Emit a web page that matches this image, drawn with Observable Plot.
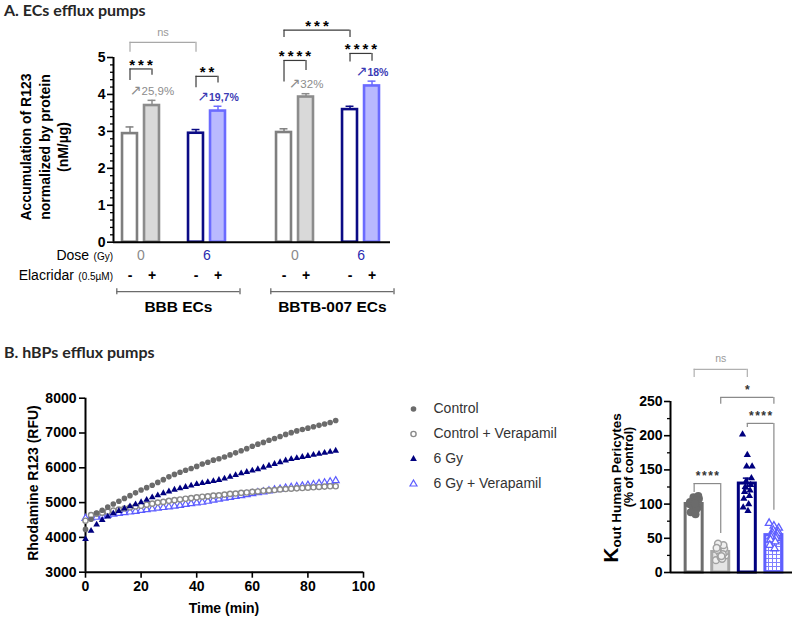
<!DOCTYPE html>
<html><head><meta charset="utf-8">
<script src="https://cdn.jsdelivr.net/npm/d3@7"></script>
<script src="https://cdn.jsdelivr.net/npm/@observablehq/plot@0.6"></script>
<style>
body{margin:0;background:#fff;}
#root{position:relative;width:794px;height:619px;overflow:hidden;background:#fff;font-family:"Liberation Sans",Arial,sans-serif;color:#000;}
.abs{position:absolute;white-space:nowrap;}
.ptitle{font-family:Lato,"Liberation Sans",sans-serif;font-weight:bold;font-size:16px;color:#262626;}
.rot{transform:translate(-50%,-50%) rotate(-90deg);text-align:center;}
</style></head>
<body><div id="root"></div>
<script>
// ---------------- Panel A data ----------------
const cellLines = ["BBB ECs", "BBTB-007 ECs"];
const doseLabels = ["0", "6"];            // Dose (Gy)
const elacridarLabels = ["-", "+"];       // Elacridar (0.5µM)
const accumMean = [2.94, 3.70, 2.95, 3.55, 2.97, 3.93, 3.59, 4.23];
const accumSem  = [0.18, 0.14, 0.10, 0.13, 0.10, 0.09, 0.09, 0.13];
const increaseLabels = ["25,9%", "19,7%", "32%", "18%"];
const sigA = [
  {a: 0, b: 1, level: 4.69, legA: 4.38, legB: 4.52, label: "***"},
  {a: 0, b: 2, level: 5.41, legA: 5.14, legB: 5.14, label: "ns"},
  {a: 2, b: 3, level: 4.49, legA: 4.18, legB: 4.31, label: "**"},
  {a: 4, b: 6, level: 5.74, legA: 5.54, legB: 5.54, label: "***"},
  {a: 4, b: 5, level: 4.92, legA: 4.34, legB: 4.65, label: "****"},
  {a: 6, b: 7, level: 5.11, legA: 4.88, legB: 4.90, label: "****"}
];
const yTicksA = [0, 1, 2, 3, 4, 5];

// ---------------- Panel B data ----------------
const groupNames = ["Control", "Control + Verapamil", "6 Gy", "6 Gy + Verapamil"];
const timeMin = [0,2,4,6,8,10,12,14,16,18,20,22,24,26,28,30,32,34,36,38,40,42,44,46,48,50,52,54,56,58,60,62,64,66,68,70,72,74,76,78,80,82,84,86,88,90];
const rfuControl = [4230,4520,4700,4780,4870,4960,5040,5120,5200,5280,5360,5430,5500,5580,5660,5740,5810,5870,5930,5980,6040,6110,6160,6220,6260,6310,6370,6430,6490,6550,6620,6680,6730,6790,6840,6900,6960,7010,7060,7100,7140,7180,7220,7260,7300,7360];
const rfuControlVer = [4480,4640,4680,4710,4740,4770,4800,4830,4860,4890,4910,4940,4970,5000,5020,5050,5070,5090,5110,5130,5150,5170,5180,5200,5210,5230,5250,5260,5280,5290,5310,5320,5340,5350,5360,5380,5390,5400,5410,5420,5430,5440,5450,5460,5470,5470];
const rfu6Gy = [3950,4190,4370,4500,4600,4690,4760,4830,4890,4950,5010,5080,5150,5210,5270,5320,5370,5410,5450,5490,5530,5560,5590,5620,5650,5690,5740,5790,5840,5880,5920,5960,6010,6060,6110,6160,6210,6250,6280,6310,6340,6370,6400,6430,6460,6490];
const rfu6GyVer = [4550,4560,4580,4610,4640,4670,4690,4710,4730,4750,4780,4800,4820,4840,4860,4880,4900,4920,4950,4970,4990,5010,5040,5070,5100,5130,5150,5180,5200,5230,5260,5290,5310,5340,5370,5390,5420,5440,5460,5480,5500,5520,5550,5570,5600,5630];
const xTicksB = [0, 20, 40, 60, 80, 100];
const yTicksB = [3000, 4000, 5000, 6000, 7000, 8000];

const koutControl = [100,104,108,110,112,97,95,102,106,99,92,88,85,103,101];
const koutControlVer = [18,22,25,28,30,32,35,38,40,42,27,33,20,36,24];
const kout6Gy = [202,172,155,155,138,133,128,125,120,118,112,108,100,95,90];
const kout6GyVer = [72,68,65,62,60,58,57,55,53,52,50,48,45,40,35];
const koutTicks = [0, 50, 100, 150, 200, 250];
const sigB = [
  {a: 0, b: 1, level: 130, legA: 117, legB: 57, label: "****"},
  {a: 0, b: 2, level: 297, legA: 285, legB: 285, label: "ns"},
  {a: 1, b: 3, level: 256, legA: 246, legB: 246, label: "*"},
  {a: 2, b: 3, level: 218, legA: 212, legB: 91, label: "****"}
];

// ---------------- styles ----------------
const FONT = "'Liberation Sans', Arial, sans-serif";
const baseStyle = {fontFamily: FONT, fontSize: "14px", fontWeight: "bold", background: "transparent", overflow: "visible"};
const styleA = [
  {fill: "#ffffff", stroke: "#7f7f7f"},
  {fill: "#d9d9d9", stroke: "#8c8c8c"},
  {fill: "#ffffff", stroke: "#0b0b85"},
  {fill: "#b9b9ff", stroke: "#6b6bff"}
];
const seriesStyle = [
  {symbol: "circle", r: 2.8, fill: "#6b6b6b", stroke: "none", sw: 0},
  {symbol: "circle", r: 2.6, fill: "#ffffff", stroke: "#8a8a8a", sw: 1.4},
  {symbol: "triangle", r: 2.5, fill: "#00007f", stroke: "none", sw: 0},
  {symbol: "triangle", r: 2.6, fill: "#ffffff", stroke: "#5c5cff", sw: 1.2}
];
const barStyleB = [
  {stroke: "#6e6e6e", fill: "#ffffff", dotFill: "#6b6b6b", dotStroke: "none", sw: 0, symbol: "circle", r: 4},
  {stroke: "#a8a8a8", fill: "#e4e4e4", dotFill: "#f0f0f0", dotStroke: "#a2a2a2", sw: 1.5, symbol: "circle", r: 3.4},
  {stroke: "#00007f", fill: "#ffffff", dotFill: "#00007f", dotStroke: "none", sw: 0, symbol: "triangle", r: 2.7},
  {stroke: "#5f5fff", fill: "url(#gridpat)", dotFill: "#ffffff", dotStroke: "#5f5fff", sw: 1.3, symbol: "triangle", r: 2.8}
];

const root = document.getElementById("root");
function place(el, left, top) {
  el.style.position = "absolute"; el.style.left = left + "px"; el.style.top = top + "px";
  root.appendChild(el);
}
function html(str, left, top, cls, extra) {
  const d = document.createElement("div");
  d.className = "abs " + (cls || "");
  d.innerHTML = str;
  if (extra) d.setAttribute("style", extra);
  place(d, left, top);
  return d;
}
function starSpacing(svg, ls) {
  d3.select(svg).selectAll("text").filter(function() { return /^\*+$/.test(this.textContent); })
    .attr("letter-spacing", ls + "px").attr("dx", (ls / 2) + "px");
}

// ---------------- Chart A ----------------
const barsA = accumMean.map((m, i) => {
  const c = Math.floor(i / 4), d = Math.floor(i / 2) % 2, e = i % 2;
  const s = styleA[d * 2 + e];
  return {c, d, e, slot: c * 7 + d * 3 + e, mean: m, top: m + accumSem[i], fill: s.fill, stroke: s.stroke};
});
const pctA = increaseLabels.map((t, k) => {
  const b = barsA[k * 2 + 1];
  return {slot: b.slot, y: b.top, text: "↗" + t, blue: b.d === 1};
});
const doseRow = cellLines.flatMap((c, ci) => doseLabels.map((dl, di) => ({x: ci * 7 + di * 3 + 0.5, label: dl, color: di ? "#2b2bb0" : "#8a8a8a"})));
const elacRow = barsA.map(b => ({x: b.slot, label: elacridarLabels[b.e]}));
const groupRow = cellLines.map((c, ci) => ({x1: ci * 7 - 0.6, x2: ci * 7 + 5.0, label: c}));
const capsA = groupRow.flatMap(g => [g.x1, g.x2]);
const minorA = d3.range(0, 5.001, 0.2).filter(v => Math.abs(v - Math.round(v)) > 1e-6);
const mid = (a, b) => (barsA[a].slot + barsA[b].slot) / 2;
const sigStars = sigA.filter(s => s.label !== "ns");
const sigNs = sigA.filter(s => s.label === "ns");

const chartA = Plot.plot({
  width: 400, height: 320, marginLeft: 113, marginRight: 10, marginTop: 57, marginBottom: 78.3,
  style: baseStyle,
  x: {domain: [-0.75, 11.84], axis: null},
  y: {domain: [0, 5], label: null},
  marks: [
    Plot.axisY({ticks: minorA, tickSize: 3, tickFormat: () => "", strokeWidth: 1.3, label: null}),
    Plot.axisY({ticks: yTicksA, tickSize: 6, tickPadding: 2, tickFormat: d => String(d), strokeWidth: 1.6, fontSize: 14, fontWeight: "bold", label: null}),
    Plot.ruleX(barsA, {x: "slot", y1: "mean", y2: "top", stroke: d => d.stroke, strokeWidth: 1.5}),
    Plot.ruleY(barsA, {y: "top", x1: d => d.slot - 0.18, x2: d => d.slot + 0.18, stroke: d => d.stroke, strokeWidth: 1.5}),
    Plot.rect(barsA, {x1: d => d.slot - 0.34, x2: d => d.slot + 0.34, y1: 0, y2: "mean", fill: d => d.fill, stroke: d => d.stroke, strokeWidth: 2.6}),
    Plot.ruleX([-0.75], {strokeWidth: 2}),
    Plot.ruleY([0], {strokeWidth: 2}),
    // significance brackets
    Plot.ruleY(sigStars, {y: "level", x1: d => barsA[d.a].slot, x2: d => barsA[d.b].slot, stroke: "#3a3a3a", strokeWidth: 1.2}),
    Plot.ruleX(sigStars, {x: d => barsA[d.a].slot, y1: "legA", y2: "level", stroke: "#3a3a3a", strokeWidth: 1.2}),
    Plot.ruleX(sigStars, {x: d => barsA[d.b].slot, y1: "legB", y2: "level", stroke: "#3a3a3a", strokeWidth: 1.2}),
    Plot.ruleY(sigNs, {y: "level", x1: d => barsA[d.a].slot, x2: d => barsA[d.b].slot, stroke: "#a8a8a8", strokeWidth: 1.2}),
    Plot.ruleX(sigNs, {x: d => barsA[d.a].slot, y1: "legA", y2: "level", stroke: "#a8a8a8", strokeWidth: 1.2}),
    Plot.ruleX(sigNs, {x: d => barsA[d.b].slot, y1: "legB", y2: "level", stroke: "#a8a8a8", strokeWidth: 1.2}),
    Plot.text(sigStars, {x: d => mid(d.a, d.b), y: "level", text: "label", dy: -4, fontSize: 15, fontWeight: "bold"}),
    Plot.text(sigNs, {x: d => mid(d.a, d.b), y: "level", text: "label", dy: -10, fontSize: 11, fontWeight: "normal", fill: "#9a9a9a"}),
    // percentage increases
    Plot.text(pctA.filter(p => !p.blue), {x: "slot", y: "y", text: "text", dy: -9, fontSize: 11.5, fontWeight: "normal", fill: "#8c8c8c"}),
    Plot.text(pctA.filter(p => p.blue), {x: "slot", y: "y", text: "text", dy: -9, fontSize: 10.5, fontWeight: "bold", fill: "#3b3bb5"}),
    // rows below axis
    Plot.text(doseRow, {x: "x", y: 0, dy: 13, text: "label", fill: "color", fontSize: 14, fontWeight: "normal"}),
    Plot.text(elacRow, {x: "x", y: 0, dy: 33, text: "label", fontSize: 14, fontWeight: "bold"}),
    Plot.ruleY(groupRow, {y: 0, x1: "x1", x2: "x2", dy: 49.5, stroke: "#6b6b6b", strokeWidth: 1.3}),
    Plot.ruleX(capsA, {x: d => d, y1: 0, y2: 0, dy: 49.5, insetTop: -3, insetBottom: -3, stroke: "#6b6b6b", strokeWidth: 1.3}),
    Plot.text(groupRow, {x: d => (d.x1 + d.x2) / 2, y: 0, dy: 65, text: "label", fontSize: 15.5, fontWeight: "bold"})
  ]
});
d3.select(chartA).selectAll("text").filter(function() { return this.textContent.startsWith("↗"); })
  .each(function() {
    const rest = this.textContent.slice(1);
    const t = d3.select(this); t.text("");
    t.append("tspan").attr("font-size", 14).attr("font-weight", "normal").attr("font-family", "DejaVu Sans").text("↗");
    t.append("tspan").text(rest);
  });
starSpacing(chartA, 3);
place(chartA, 0, 0);

// ---------------- Chart B1 (kinetics) ----------------
const rfuSeries = [rfuControl, rfuControlVer, rfu6Gy, rfu6GyVer];
const drawOrder = [3, 1, 2, 0];
const chartB1 = Plot.plot({
  width: 380, height: 239, marginLeft: 85, marginRight: 17, marginTop: 17.7, marginBottom: 47.3,
  style: baseStyle,
  x: {domain: [0, 100], label: null},
  y: {domain: [3000, 8000], label: null},
  marks: [
    Plot.axisX({ticks: xTicksB, tickSize: 6, tickPadding: 3, tickFormat: d => String(d), strokeWidth: 1.6, fontSize: 14, fontWeight: "bold", label: null}),
    Plot.axisY({ticks: yTicksB, tickSize: 6, tickPadding: 3, tickFormat: d => String(d), strokeWidth: 1.6, fontSize: 14, fontWeight: "bold", label: null}),
    Plot.ruleX([0], {strokeWidth: 2}),
    Plot.ruleY([3000], {strokeWidth: 2}),
    ...drawOrder.map(k => {
      const s = seriesStyle[k];
      return Plot.dot(timeMin, {x: t => t, y: (t, i) => rfuSeries[k][i], symbol: s.symbol, r: s.r, fill: s.fill, stroke: s.stroke, strokeWidth: s.sw});
    })
  ]
});
place(chartB1, 0, 380);

// ---------------- Legend ----------------
const legend = Plot.plot({
  width: 180, height: 100, marginLeft: 13, marginRight: 0, marginTop: 0, marginBottom: 0,
  style: Object.assign({}, baseStyle, {fontWeight: "normal"}),
  x: {domain: [0, 1], axis: null},
  y: {type: "band", domain: groupNames, padding: 0, axis: null},
  marks: [
    ...groupNames.map((g, k) => {
      const s = seriesStyle[k];
      return Plot.dot([g], {y: d => d, frameAnchor: "left", symbol: s.symbol, r: s.r, fill: s.fill, stroke: s.stroke, strokeWidth: s.sw});
    }),
    Plot.text(groupNames, {y: d => d, text: d => d, frameAnchor: "left", textAnchor: "start", dx: 20, fontSize: 14, fill: "#333333"})
  ]
});
place(legend, 400, 396);

// ---------------- Chart B2 (Kout) ----------------
const koutSets = [koutControl, koutControlVer, kout6Gy, kout6GyVer];
const statsB = koutSets.map((vals, k) => {
  const m = d3.mean(vals), sem = d3.deviation(vals) / Math.sqrt(vals.length);
  return {k, mean: m, lo: m - sem, hi: m + sem};
});
const jitter = i => (((i * 7) % 15) / 14 - 0.5) * 0.36;
const minorB = d3.range(25, 250, 50);
const chartB2 = Plot.plot({
  width: 234, height: 289, marginLeft: 110, marginRight: 2, marginTop: 71, marginBottom: 47,
  style: baseStyle,
  x: {domain: [-0.89, 3.7], axis: null},
  y: {domain: [0, 250], label: null},
  marks: [
    Plot.axisY({ticks: minorB, tickSize: 3, tickFormat: () => "", strokeWidth: 1.3, label: null}),
    Plot.axisY({ticks: koutTicks, tickSize: 6, tickPadding: 2, tickFormat: d => String(d), strokeWidth: 1.6, fontSize: 14, fontWeight: "bold", label: null}),
    ...statsB.map(s => Plot.rect([s], {x1: d => d.k - 0.32, x2: d => d.k + 0.32, y1: 0, y2: "mean", fill: barStyleB[s.k].fill, stroke: barStyleB[s.k].stroke, strokeWidth: 3})),
    ...statsB.map(s => Plot.ruleX([s], {x: "k", y1: "lo", y2: "hi", stroke: barStyleB[s.k].stroke, strokeWidth: 1.5})),
    ...statsB.map(s => Plot.ruleY([s.lo, s.hi], {y: d => d, x1: s.k - 0.15, x2: s.k + 0.15, stroke: barStyleB[s.k].stroke, strokeWidth: 1.5})),
    ...koutSets.map((vals, k) => {
      const st = barStyleB[k];
      return Plot.dot(vals, {x: (v, i) => k + jitter(i), y: v => v, symbol: st.symbol, r: st.r, fill: st.dotFill, stroke: st.dotStroke, strokeWidth: st.sw});
    }),
    Plot.ruleX([-0.89], {strokeWidth: 2}),
    Plot.ruleY([0], {strokeWidth: 2}),
    Plot.ruleY(sigB, {y: "level", x1: "a", x2: "b", stroke: d => d.label === "ns" ? "#b0b0b0" : "#8a8a8a", strokeWidth: 1.2}),
    Plot.ruleX(sigB, {x: "a", y1: "legA", y2: "level", stroke: d => d.label === "ns" ? "#b0b0b0" : "#8a8a8a", strokeWidth: 1.2}),
    Plot.ruleX(sigB, {x: "b", y1: "legB", y2: "level", stroke: d => d.label === "ns" ? "#b0b0b0" : "#8a8a8a", strokeWidth: 1.2}),
    Plot.text(sigB.filter(s => s.label !== "ns"), {x: d => (d.a + d.b) / 2, y: "level", text: "label", dy: -7, fontSize: 12, fontWeight: "bold", fill: "#333333"}),
    Plot.text(sigB.filter(s => s.label === "ns"), {x: d => (d.a + d.b) / 2, y: "level", text: "label", dy: -11, fontSize: 10.5, fontWeight: "normal", fill: "#9a9a9a"})
  ]
});
const defs = d3.select(chartB2).insert("defs", ":first-child");
const pat = defs.append("pattern").attr("id", "gridpat").attr("patternUnits", "userSpaceOnUse").attr("width", 4).attr("height", 4);
pat.append("rect").attr("width", 4).attr("height", 4).attr("fill", "#ffffff");
pat.append("path").attr("d", "M0 0.5H4M0.5 0V4").attr("stroke", "#8080ff").attr("stroke-width", 1);
starSpacing(chartB2, 1.5);
place(chartB2, 560, 330);

// ---------------- HTML text ----------------
html("A. ECs efflux pumps", 4, 0, "ptitle");
html("B. hBPs efflux pumps", 4, 342, "ptitle");
html("Accumulation of R123<br>normalized by protein<br>(nM/µg)", 45, 147, "rot", "font-weight:bold;font-size:14px;line-height:18.5px;");
html('<span style="font-size:14px">Dose</span> <span style="font-size:10px">(Gy)</span>', 0, 246, "", "width:113px;text-align:right;");
html('<span style="font-size:14px">Elacridar</span> <span style="font-size:10px">(0.5µM)</span>', 0, 266, "", "width:113px;text-align:right;");
html("Rhodamine R123 (RFU)", 33, 483, "rot", "font-weight:bold;font-size:14px;");
html("Time (min)", 224, 608, "", "transform:translate(-50%,-50%);font-weight:bold;font-size:14px;");
html('<span style="font-size:21px">K</span><span style="font-size:13.5px;position:relative;top:3px">out Human Pericytes</span>', 611, 488, "rot", "font-weight:bold;");
html("(% of control)", 629, 467, "rot", "font-weight:bold;font-size:12.5px;");
</script>
</body></html>
